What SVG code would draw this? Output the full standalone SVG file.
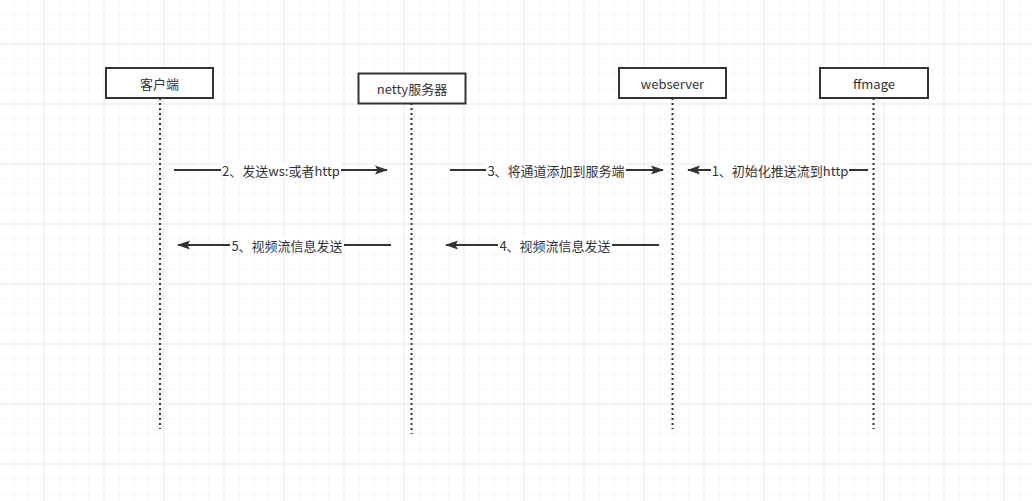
<svg xmlns="http://www.w3.org/2000/svg" width="1032" height="501" viewBox="0 0 1032 501">
<defs>
<pattern id="minor" x="13.5" y="13.5" width="15" height="15" patternUnits="userSpaceOnUse"><path d="M0 0H15M0 0V15" fill="none" stroke="#efefef" stroke-width="1"/></pattern>
<pattern id="major" x="43.5" y="43.5" width="60" height="60" patternUnits="userSpaceOnUse"><path d="M0 0H60M0 0V60" fill="none" stroke="#e0e0e0" stroke-width="1"/></pattern>
<marker id="ah" viewBox="0 0 13 10" refX="12" refY="5" markerWidth="13" markerHeight="10" markerUnits="userSpaceOnUse" orient="auto"><path d="M0 0.5L13 5L0 9.5L2.5 5Z" fill="#333"/></marker>
</defs>
<style>
.box{fill:#fff;stroke:#333;stroke-width:2}
.life{stroke:#333;stroke-width:2;stroke-dasharray:2 3;fill:none}
.msg{stroke:#333;stroke-width:2;fill:none;marker-end:url(#ah)}
text{font-family:"Noto Sans CJK SC","Liberation Sans",sans-serif;font-size:13px;fill:#333;text-anchor:middle;dominant-baseline:central}
.lbg{fill:#fff}
</style>
<rect width="1032" height="501" fill="#fff"/>
<rect width="1032" height="501" fill="url(#minor)"/>
<rect width="1032" height="501" fill="url(#major)"/>
<g id="client"><line class="life" x1="160" y1="98" x2="160" y2="429"/><rect class="box" x="106" y="68" width="107" height="30"/><text x="159.5" y="83">客户端</text></g>
<g id="netty"><line class="life" x1="411.5" y1="103" x2="411.5" y2="434"/><rect class="box" x="358.5" y="73.5" width="107" height="30"/><text x="412" y="88.5">netty服务器</text></g>
<g id="webserver"><line class="life" x1="672.5" y1="98" x2="672.5" y2="429"/><rect class="box" x="619" y="68" width="107" height="30"/><text x="672.5" y="83">webserver</text></g>
<g id="ffmage"><line class="life" x1="873.5" y1="98" x2="873.5" y2="429"/><rect class="box" x="820" y="68" width="108" height="30"/><text x="874" y="83">ffmage</text></g>
<g id="connectors">
<line class="msg" x1="174" y1="170" x2="387" y2="170"/>
<rect class="lbg" x="221" y="162" width="120" height="16"/><text x="281" y="170">2、发送ws:或者http</text>
<line class="msg" x1="450" y1="170" x2="663" y2="170"/>
<rect class="lbg" x="486" y="162" width="140" height="16"/><text x="556" y="170">3、将通道添加到服务端</text>
<line class="msg" x1="868" y1="170" x2="688" y2="170"/>
<rect class="lbg" x="711" y="162" width="138" height="16"/><text x="780" y="170">1、初始化推送流到http</text>
<line class="msg" x1="391" y1="245" x2="178" y2="245"/>
<rect class="lbg" x="230" y="237" width="114" height="16"/><text x="287" y="245">5、视频流信息发送</text>
<line class="msg" x1="659" y1="245" x2="446" y2="245"/>
<rect class="lbg" x="498" y="237" width="114" height="16"/><text x="555" y="245">4、视频流信息发送</text>
</g>
</svg>
